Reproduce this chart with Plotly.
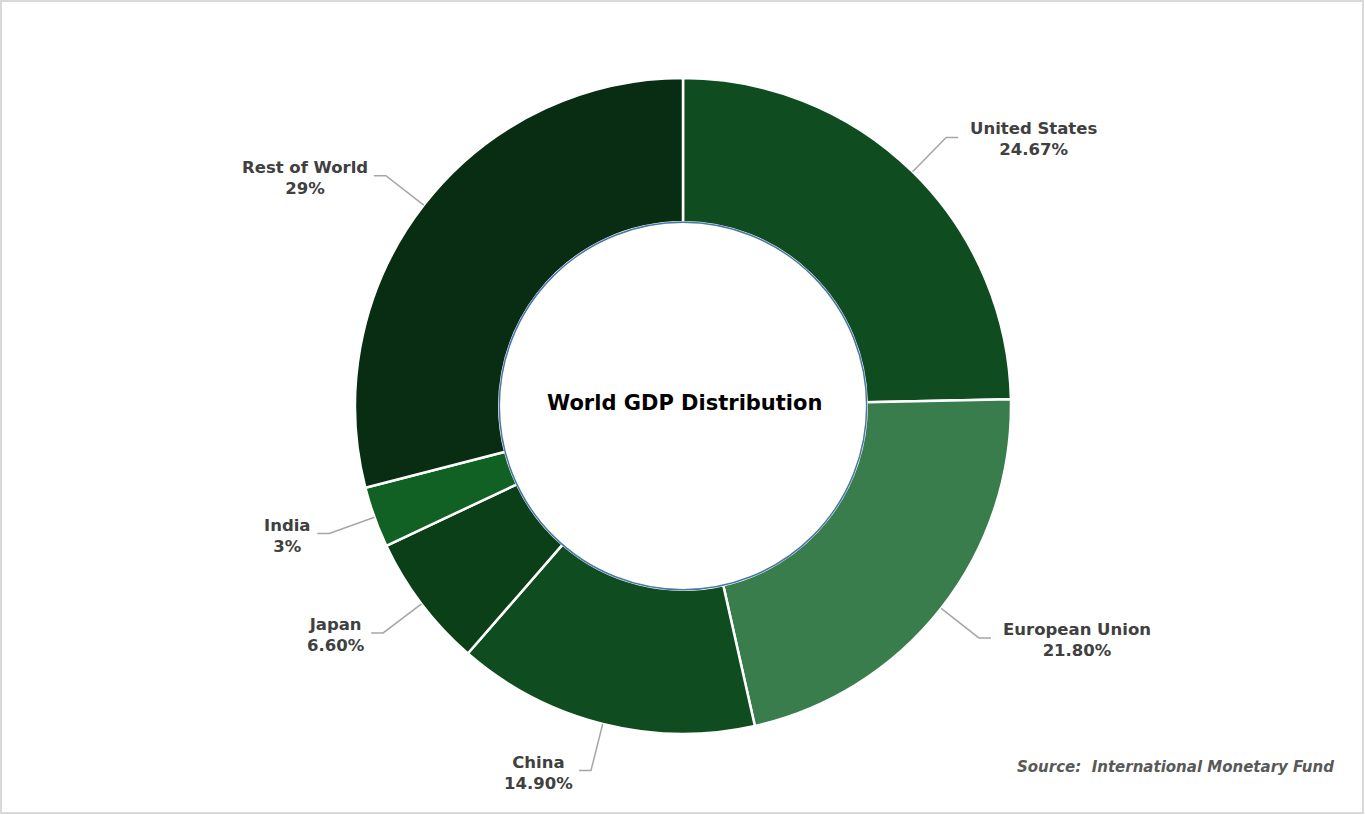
import math
import plotly.graph_objects as go

labels = ["United States", "European Union", "China", "Japan", "India", "Rest of World"]
values = [24.67, 21.80, 14.90, 6.60, 3.0, 29.0]
pct_text = ["24.67%", "21.80%", "14.90%", "6.60%", "3%", "29%"]
colors = ["#0f4d20", "#3a7d4c", "#0f4d20", "#0b3f18", "#116125", "#082d13"]

W, H = 1365, 815
CX, CY, R = 683, 406, 328
HOLE = 0.56
ELBOW_R = 376
FONT = "'DejaVu Sans', 'Open Sans', sans-serif"

def px(x):
    return x / W

def py(y):
    return 1 - y / H

fig = go.Figure(go.Pie(
    labels=labels, values=values, sort=False, direction="clockwise", rotation=0,
    hole=HOLE, textinfo="none", hoverinfo="label+percent",
    marker=dict(colors=colors, line=dict(color="white", width=2.5)),
    domain=dict(x=[px(CX - R), px(CX + R)], y=[py(CY + R), py(CY - R)]),
    showlegend=False,
))

shapes = [
    dict(type="rect", xref="paper", yref="paper", x0=px(1), y0=py(813), x1=px(1363), y1=py(1),
         line=dict(color="#d9d9d9", width=2), fillcolor="rgba(0,0,0,0)", layer="above"),
    dict(type="circle", xref="paper", yref="paper",
         x0=px(CX - R * HOLE), x1=px(CX + R * HOLE), y0=py(CY + R * HOLE), y1=py(CY - R * HOLE),
         line=dict(color="#4a76a8", width=1.5), layer="above"),
]
annotations = []
total = sum(values)
cum = 0.0
for lab, v, t in zip(labels, values, pct_text):
    mid = (cum + v / 2) / total * 2 * math.pi
    cum += v
    sx, sy = CX + R * math.sin(mid), CY - R * math.cos(mid)
    ex, ey = CX + ELBOW_R * math.sin(mid), CY - ELBOW_R * math.cos(mid)
    right = math.sin(mid) > 0
    hx = ex + (12 if right else -12)
    shapes.append(dict(type="path", xref="paper", yref="paper",
                       path=f"M {px(sx)} {py(sy)} L {px(ex)} {py(ey)} L {px(hx)} {py(ey)}",
                       line=dict(color="#a6a6a6", width=1.5)))
    annotations.append(dict(
        x=px(hx + (10 if right else -4)), y=py(ey + 2), xref="paper", yref="paper",
        xanchor="left" if right else "right", yanchor="middle", align="center",
        text=f"{lab}<br>{t}", showarrow=False,
        font=dict(family=FONT, size=16.5, color="#404040", weight="bold"),
    ))

annotations.append(dict(x=px(CX + 1), y=py(CY - 3), xref="paper", yref="paper", showarrow=False,
                        text="World GDP Distribution", xanchor="center", yanchor="middle",
                        font=dict(family=FONT, size=21, color="#000000", weight="bold")))
annotations.append(dict(x=px(1336), y=py(767), xref="paper", yref="paper", showarrow=False,
                        text="<i>Source:  International Monetary Fund</i>", xanchor="right", yanchor="middle",
                        font=dict(family=FONT, size=15, color="#595959", weight="bold")))

fig.update_layout(
    width=W, height=H, margin=dict(l=0, r=0, t=0, b=0),
    paper_bgcolor="white", plot_bgcolor="white",
    shapes=shapes, annotations=annotations,
)
fig.write_html("out.html")
